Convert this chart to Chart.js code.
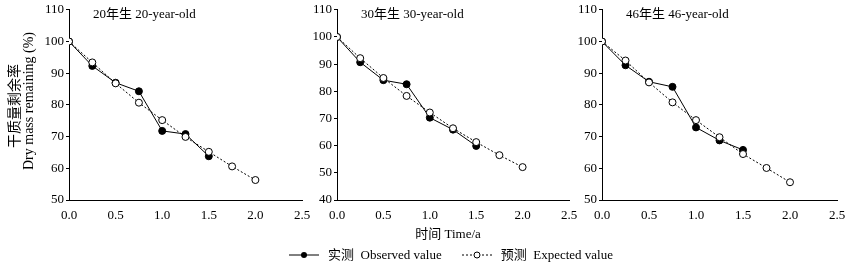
<!DOCTYPE html>
<html>
<head>
<meta charset="utf-8">
<script src="https://cdn.jsdelivr.net/npm/chart.js@4.4.1/dist/chart.umd.min.js"></script>
<style>
  html, body { margin: 0; padding: 0; background: #fff; }
  body { width: 848px; height: 263px; position: relative; overflow: hidden;
         font-family: "Liberation Serif", "Noto Sans CJK SC", serif; color: #000; }
  canvas { position: absolute; top: 0; }
  .txt { position: absolute; white-space: nowrap; font-size: 13px; line-height: 1; }
  .rot { transform: translate(-50%, -50%) rotate(-90deg); }
  .ctr { transform: translate(-50%, -50%); }
  .legend { position: absolute; top: 255px; left: 288px; transform: translateY(-50%);
            font-size: 13px; line-height: 14px; display: flex; align-items: center; white-space: nowrap; }
  .legend svg { display: block; }
</style>
</head>
<body>
<canvas id="chart-20"></canvas>
<canvas id="chart-30"></canvas>
<canvas id="chart-46"></canvas>

<div class="txt rot" style="left:15px; top:106px; font-size:14px;">干质量剩余率</div>
<div class="txt rot" style="left:29px; top:101px; font-size:14px;">Dry mass remaining (%)</div>
<div class="txt ctr" style="left:448px; top:233px;">时间 Time/a</div>

<div class="legend">
  <svg width="32" height="10"><line x1="1" y1="5" x2="31" y2="5" stroke="#000" stroke-width="1"/><circle cx="16" cy="5" r="3" fill="#000"/></svg>
  <span style="margin-left:8px;">实测&nbsp;&nbsp;Observed value</span>
  <svg width="32" height="10" style="margin-left:19px;"><line x1="1" y1="5" x2="31" y2="5" stroke="#000" stroke-width="1" stroke-dasharray="2,2"/><circle cx="16" cy="5" r="3" fill="#fff" stroke="#000"/></svg>
  <span style="margin-left:8px;">预测&nbsp;&nbsp;Expected value</span>
</div>

<script>
// time (a)
const timeObs = [0, 0.25, 0.5, 0.75, 1.0, 1.25, 1.5];
const timeExp = [0, 0.25, 0.5, 0.75, 1.0, 1.25, 1.5, 1.75, 2.0];

// dry mass remaining (%)
const obs20 = [100, 92.3, 87.0, 84.3, 71.8, 70.8, 63.8];
const exp20 = [100, 93.4, 86.8, 80.7, 75.2, 69.9, 65.2, 60.6, 56.3];
const obs30 = [100, 90.7, 84.1, 82.6, 70.3, 65.9, 59.9];
const exp30 = [100, 92.2, 84.9, 78.3, 72.2, 66.4, 61.3, 56.5, 52.1];
const obs46 = [100, 92.5, 87.3, 85.7, 72.9, 68.8, 65.8];
const exp46 = [100, 94.0, 87.1, 80.8, 75.2, 69.8, 64.5, 60.1, 55.6];

const panelTitles = ['20年生 20-year-old', '30年生 30-year-old', '46年生 46-year-old'];
const yMins = [50, 40, 50];
const yMax = 110;
const xTicks = [0, 0.5, 1.0, 1.5, 2.0, 2.5];

const FONT = '"Liberation Serif", "Noto Sans CJK SC", serif';
const CANVAS_H = 228;

const toPoints = (xs, ys) => xs.map((x, i) => ({ x: x, y: ys[i] }));

// panel title drawn inside chart area
const panelTitle = {
  id: 'panelTitle',
  afterDraw(chart, args, opts) {
    const ctx = chart.ctx;
    ctx.save();
    ctx.font = '13px ' + FONT;
    ctx.fillStyle = '#000';
    ctx.textBaseline = 'middle';
    ctx.fillText(opts.text, chart.chartArea.left + 24, 15);
    ctx.restore();
  }
};

function makePanel(id, left, width, yWidth, padRight, title, yMin, obs, exp) {
  const el = document.getElementById(id);
  el.style.left = left + 'px';
  el.width = width;
  el.height = CANVAS_H;
  el.style.width = width + 'px';
  el.style.height = CANVAS_H + 'px';

  new Chart(el, {
    type: 'line',
    data: {
      datasets: [
        {
          label: 'Expected value',
          data: toPoints(timeExp, exp),
          borderColor: '#000',
          borderWidth: 1,
          borderDash: [2, 2],
          pointRadius: 3.5,
          pointBackgroundColor: '#fff',
          pointBorderColor: '#000',
          pointBorderWidth: 1,
          tension: 0,
          order: 0
        },
        {
          label: 'Observed value',
          data: toPoints(timeObs, obs),
          borderColor: '#000',
          borderWidth: 1,
          pointRadius: 3.5,
          pointBackgroundColor: '#000',
          pointBorderColor: '#000',
          tension: 0,
          order: 1
        }
      ]
    },
    options: {
      responsive: false,
      animation: false,
      layout: { padding: { left: 0, right: padRight, top: 9, bottom: 0 } },
      plugins: {
        legend: { display: false },
        tooltip: { enabled: false },
        panelTitle: { text: title }
      },
      scales: {
        x: {
          type: 'linear',
          min: 0,
          max: 2.5,
          afterBuildTicks: (s) => { s.ticks = xTicks.map(v => ({ value: v })); },
          afterFit: (s) => { s.height = CANVAS_H - 200; },
          grid: { display: false },
          border: { display: true, color: '#000', width: 1 },
          ticks: {
            color: '#000',
            font: { family: FONT, size: 13 },
            padding: 0,
            maxRotation: 0,
            callback: (v) => Number(v).toFixed(1)
          }
        },
        y: {
          min: yMin,
          max: yMax,
          afterFit: (s) => { s.width = yWidth; },
          grid: { drawOnChartArea: false, drawTicks: true, tickLength: 3, color: '#000' },
          border: { display: true, color: '#000', width: 1 },
          ticks: {
            stepSize: 10,
            color: '#000',
            font: { family: FONT, size: 13 },
            padding: 2
          }
        }
      }
    },
    plugins: [panelTitle]
  });
}

makePanel('chart-20', 0, 318, 69, 16, panelTitles[0], yMins[0], obs20, exp20);
makePanel('chart-30', 297, 290, 40, 18, panelTitles[1], yMins[1], obs30, exp30);
makePanel('chart-46', 562, 286, 40, 11, panelTitles[2], yMins[2], obs46, exp46);
</script>
</body>
</html>
